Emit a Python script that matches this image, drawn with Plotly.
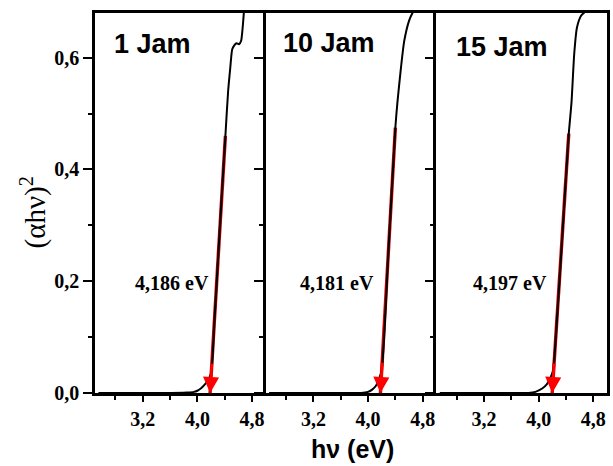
import plotly.graph_objects as go

# Tauc plots of three samples (aging time in days)
panel_names = ["1 Jam", "10 Jam", "15 Jam"]
gap_ev = [4.186, 4.181, 4.197]          # extrapolated band gap (x-intercept of the fit)
fit_top_x = [4.41, 4.40, 4.44]          # upper end of the linear fit line
fit_top_y = [0.46, 0.475, 0.464]

energy_1 = [2.55, 3.0, 3.5, 3.85, 3.95, 4.0, 4.05, 4.1, 4.15, 4.2, 4.25, 4.3, 4.35,
            4.41, 4.45, 4.48, 4.51, 4.54, 4.57, 4.61, 4.64, 4.66, 4.68, 4.70]
absorb_1 = [0.0, 0.0, 0.0, 0.001, 0.002, 0.004, 0.008, 0.014, 0.022, 0.035, 0.13, 0.235, 0.34,
            0.46, 0.54, 0.58, 0.615, 0.622, 0.626, 0.624, 0.63, 0.65, 0.68, 0.72]

energy_2 = [2.55, 3.0, 3.5, 3.9, 4.0, 4.06, 4.11, 4.16, 4.2, 4.3, 4.40, 4.43, 4.48,
            4.53, 4.60, 4.65, 4.70]
absorb_2 = [0.0, 0.0, 0.0, 0.0, 0.002, 0.006, 0.012, 0.025, 0.041, 0.258, 0.475, 0.52, 0.58,
            0.63, 0.666, 0.68, 0.69]

energy_3 = [2.55, 3.0, 3.5, 3.85, 3.95, 4.05, 4.12, 4.17, 4.21, 4.25, 4.35, 4.44, 4.48,
            4.52, 4.56, 4.62, 4.66, 4.70]
absorb_3 = [0.0, 0.0, 0.0, 0.0, 0.002, 0.008, 0.016, 0.027, 0.04, 0.1, 0.29, 0.464, 0.52,
            0.607, 0.654, 0.675, 0.68, 0.685]

energies = [energy_1, energy_2, energy_3]
absorbs = [absorb_1, absorb_2, absorb_3]

x_ticks = [3.2, 4.0, 4.8]
x_tick_text = ["3,2", "4,0", "4,8"]
y_ticks = [0.0, 0.2, 0.4, 0.6]
y_tick_text = ["0,0", "0,2", "0,4", "0,6"]

# label placement per panel (data coords)
name_pos = [(2.75, 0.625), (2.73, 0.627), (2.76, 0.62)]
gap_label_pos = [(3.63, 0.196), (3.55, 0.196), (3.58, 0.196)]

fig = go.Figure()
serif = "Liberation Serif"
sans = "Liberation Sans"

domains = [[0.0, 1 / 3], [1 / 3, 2 / 3], [2 / 3, 1.0]]
for i in range(3):
    xa = "x" if i == 0 else f"x{i + 1}"
    ya = "y" if i == 0 else f"y{i + 1}"
    # linear fit line (red)
    fig.add_trace(go.Scatter(
        x=[gap_ev[i], fit_top_x[i]], y=[0.0, fit_top_y[i]], mode="lines",
        line=dict(color="#d40000", width=3.4), xaxis=xa, yaxis=ya,
        showlegend=False, hoverinfo="skip"))
    # measured curve
    fig.add_trace(go.Scatter(
        x=energies[i], y=absorbs[i], mode="lines",
        line=dict(color="black", width=2, shape="spline", smoothing=0.6),
        xaxis=xa, yaxis=ya, showlegend=False))

    axis_common = dict(showline=True, linecolor="black", linewidth=2.5,
                       showgrid=False, zeroline=False, ticks="outside", tickcolor="black",
                       tickwidth=2)
    fig.layout[f"xaxis{'' if i == 0 else i + 1}"] = dict(
        axis_common, mirror=True, domain=domains[i], anchor=ya, range=[2.5, 5.0],
        tickvals=x_ticks, ticktext=x_tick_text, ticklen=6,
        tickfont=dict(family=serif, size=20, color="black", weight="bold"),
        minor=dict(tickvals=[2.8, 3.6, 4.4], ticklen=4, tickwidth=2, tickcolor="black",
                   ticks="outside"))
    # the next panel's left spine doubles as this panel's right edge
    fig.layout[f"yaxis{'' if i == 0 else i + 1}"] = dict(
        axis_common, mirror=(i == 2), domain=[0, 1], anchor=xa, range=[0, 0.68],
        tickvals=y_ticks, ticktext=y_tick_text, ticklen=9,
        showticklabels=(i == 0),
        tickfont=dict(family=serif, size=20, color="black", weight="bold"),
        minor=dict(tickvals=[0.1, 0.3, 0.5], ticklen=4, tickwidth=2, tickcolor="black",
                   ticks="outside"))

    # arrowhead at the band-gap intercept
    fig.add_annotation(
        x=gap_ev[i], y=0.0, ax=gap_ev[i] + (fit_top_x[i] - gap_ev[i]) * 0.12,
        ay=fit_top_y[i] * 0.12, xref=xa, yref=ya, axref=xa, ayref=ya, text="",
        showarrow=True, arrowhead=2, arrowsize=1.15, arrowwidth=2.8, arrowcolor="#ff0000",
        standoff=0)
    # sample name
    fig.add_annotation(
        x=name_pos[i][0], y=name_pos[i][1], xref=xa, yref=ya, text=panel_names[i],
        showarrow=False, xanchor="left", yanchor="middle",
        font=dict(family=sans, size=27, color="black", weight="bold"))
    # band gap value
    fig.add_annotation(
        x=gap_label_pos[i][0], y=gap_label_pos[i][1], xref=xa, yref=ya,
        text=f"{gap_ev[i]:.3f}".replace(".", ",") + " eV",
        showarrow=False, xanchor="center", yanchor="middle",
        font=dict(family=serif, size=20, color="black", weight="bold"))

# axis titles
fig.add_annotation(
    x=-0.12, y=0.474, xref="paper", yref="paper", text="(αhν)<sup>2</sup>",
    textangle=-90, showarrow=False, xanchor="center", yanchor="middle",
    font=dict(family=serif, size=29, color="black"))
fig.add_annotation(
    x=0.503, y=-0.148, xref="paper", yref="paper", text="hν (eV)",
    showarrow=False, xanchor="center", yanchor="middle",
    font=dict(family=sans, size=25, color="black", weight="bold"))

fig.update_layout(
    width=613, height=466,
    margin=dict(l=95, r=3, t=13, b=73),
    paper_bgcolor="white", plot_bgcolor="white",
    separators=",.",
    showlegend=False,
)

fig.write_html("out.html")
